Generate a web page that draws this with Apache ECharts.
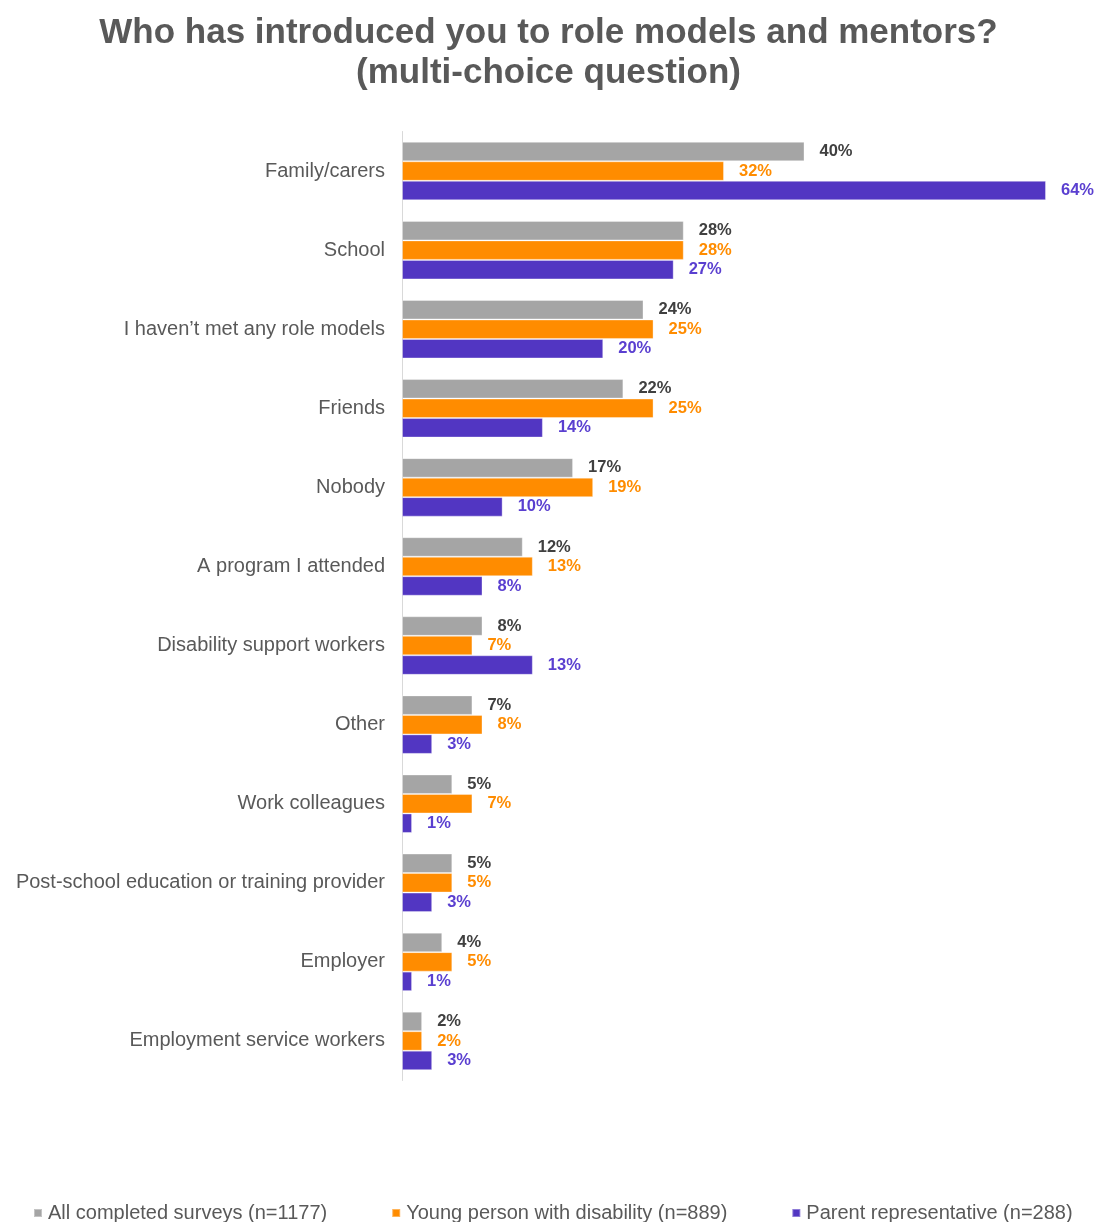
<!DOCTYPE html>
<html>
<head>
<meta charset="utf-8">
<script src="https://cdn.jsdelivr.net/npm/echarts@6/dist/echarts.min.js"></script>
<style>html,body{margin:0;padding:0;background:#fff}#c{width:1097px;height:1222px}</style>
</head>
<body>
<div id="c"></div>
<script>
const categories = ["Family/carers","School","I haven\u2019t met any role models","Friends","Nobody","A program I attended","Disability support workers","Other","Work colleagues","Post-school education or training provider","Employer","Employment service workers"];
const allSurveys = [40,28,24,22,17,12,8,7,5,5,4,2];
const youngPerson = [32,28,25,25,19,13,7,8,7,5,5,2];
const parentRep = [64,27,20,14,10,8,13,3,1,3,1,3];
const seriesNames = ["All completed surveys (n=1177)","Young person with disability (n=889)","Parent representative (n=288)"];
const colors = ["#a5a5a5","#ff8c00","#5236c2"];
const labelColors = ["#404040","#ff8c00","#5a3fd0"];

const chart = echarts.init(document.getElementById('c'), null, {renderer:'canvas'});
const mk = (name, data, i) => ({
  name, type:'bar', data, barWidth:19.5, barGap:'0%',
  itemStyle:{color:colors[i], borderColor:'rgba(255,255,255,0.35)', borderWidth:1},
  label:{show:true, position:'right', distance:15, formatter:'{c}%', color:labelColors[i], fontFamily:'Liberation Sans', fontWeight:'bold', fontSize:16.5},
  emphasis:{disabled:true}
});
chart.setOption({
  animation:false,
  color:colors,
  title:{
    text:'Who has introduced you to role models and mentors?\n(multi-choice question)',
    left:'center', top:8,
    textStyle:{fontFamily:'Liberation Sans', fontWeight:'bold', fontSize:35, lineHeight:40, color:'#595959'}
  },
  legend:{
    top:1203, left:33, itemWidth:8, itemHeight:8, itemGap:64, icon:'rect', padding:0,
    textStyle:{fontFamily:'Liberation Sans', fontSize:20, color:'#595959', padding:[0,0,0,1]}
  },
  grid:{left:402, right:51, top:131.5, bottom:1222-1080.5, containLabel:false},
  xAxis:{type:'value', min:0, max:64, show:false},
  yAxis:{type:'category', data:categories, inverse:true,
    axisLine:{show:true, lineStyle:{color:'#d9d9d9', width:1}},
    axisTick:{show:false},
    axisLabel:{margin:17, fontFamily:'Liberation Sans', fontSize:20, color:'#595959'}
  },
  series:[mk(seriesNames[0], allSurveys, 0), mk(seriesNames[1], youngPerson, 1), mk(seriesNames[2], parentRep, 2)]
});
</script>
</body>
</html>
